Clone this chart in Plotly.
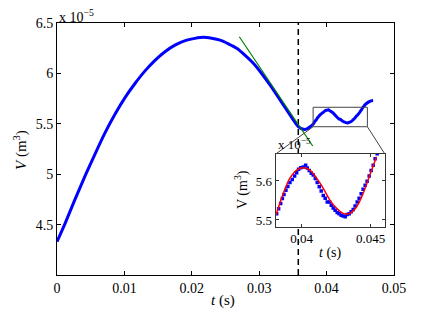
import plotly.graph_objects as go

# ---- data (t in s, V in 1e-5 m^3) ----
# main trace: rising / falling part
t_main_head = [0.0, 0.00119, 0.00267, 0.00415, 0.00564, 0.00712, 0.0086, 0.01009, 0.01157,
               0.01306, 0.01454, 0.01602, 0.0175, 0.01924, 0.0217, 0.02418, 0.02666, 0.02913,
               0.0316, 0.03408, 0.0358, 0.03655, 0.0371, 0.03754, 0.0380]
v_main_head = [4.33, 4.51, 4.75, 4.98, 5.20, 5.41, 5.595, 5.76, 5.90,
               6.025, 6.13, 6.215, 6.28, 6.33, 6.358, 6.33, 6.249, 6.10,
               5.885, 5.637, 5.471, 5.445, 5.45, 5.471, 5.495]
# oscillating part: measured samples (also shown in the inset)
t_dots = [0.03819, 0.03833, 0.03848, 0.0386, 0.03872, 0.03886, 0.039, 0.03915, 0.03932,
          0.03949, 0.03964, 0.03978, 0.03993, 0.04012, 0.04029, 0.04041, 0.04055, 0.0407,
          0.04084, 0.04099, 0.04113, 0.04128, 0.04142, 0.04157, 0.04171, 0.04186, 0.04203,
          0.04215, 0.04229, 0.04243, 0.04258, 0.04272, 0.04287, 0.04301, 0.04316, 0.0433,
          0.04345, 0.04359, 0.04374, 0.04388, 0.04403, 0.04417, 0.04432, 0.04446, 0.04461,
          0.04475, 0.0449, 0.04504, 0.04519, 0.04533, 0.04548]
v_dots = [5.516, 5.529, 5.542, 5.555, 5.565, 5.576, 5.586, 5.596, 5.604,
          5.613, 5.621, 5.630, 5.634, 5.636, 5.640, 5.633, 5.627, 5.620,
          5.615, 5.606, 5.596, 5.585, 5.574, 5.563, 5.556, 5.546, 5.546,
          5.538, 5.531, 5.525, 5.519, 5.516, 5.512, 5.510, 5.508, 5.514,
          5.516, 5.521, 5.527, 5.536, 5.546, 5.556, 5.567, 5.579, 5.589,
          5.599, 5.613, 5.627, 5.640, 5.657, 5.670]
t_main_tail = [0.0458, 0.0462, 0.0466, 0.0469]
v_main_tail = [5.695, 5.715, 5.728, 5.73]

t_tangent = [0.02705, 0.03794]
v_tangent = [6.364, 5.280]

t_event = 0.0358

t_fit = [0.03814, 0.03867, 0.03915, 0.03964, 0.04012, 0.0406, 0.04109, 0.04157, 0.04205,
         0.04254, 0.04301, 0.0435, 0.04399, 0.04446, 0.04495, 0.04543]
v_fit = [5.513, 5.568, 5.607, 5.628, 5.634, 5.628, 5.607, 5.581, 5.551,
         5.530, 5.517, 5.517, 5.534, 5.568, 5.615, 5.662]

main_xticks = [0, 0.01, 0.02, 0.03, 0.04, 0.05]
main_xticklabels = ["0", "0.01", "0.02", "0.03", "0.04", "0.05"]
main_yticks = [4.5, 5, 5.5, 6, 6.5]
main_yticklabels = ["4.5", "5", "5.5", "6", "6.5"]
inset_xticks = [0.04, 0.045]
inset_xticklabels = ["0.04", "0.045"]
inset_yticks = [5.5, 5.6]
inset_yticklabels = ["5.5", "5.6"]

# ---- layout geometry (page body has an 8px margin) ----
OFF = 8
W, H = 436 - OFF, 313 - OFF
ML, MR, MT, MB = 57 - OFF, 42, 23 - OFF, 38
XR = [0, 0.05]
YR = [4.0, 6.5]
IXR = [0.03812, 0.04604]
IYR = [5.483, 5.669]
ZOOM_X = [0.0380, 0.04605]
ZOOM_Y = [5.471, 5.664]
INSET_DX = [0.649, 0.973]
INSET_DY = [0.192, 0.480]

FONT = "Times New Roman, Liberation Serif, serif"
PW, PH = W - ML - MR, H - MT - MB


def px(t):
    return (t - XR[0]) / (XR[1] - XR[0])


def py(v):
    return (v - YR[0]) / (YR[1] - YR[0])


def pxl(x_pix):
    return (x_pix - OFF - ML) / PW


def pyl(y_pix):
    return (H - MB - (y_pix - OFF)) / PH


t_main = t_main_head + t_dots + t_main_tail
v_main = v_main_head + v_dots + v_main_tail

fig = go.Figure()

fig.add_trace(go.Scatter(x=t_main, y=v_main, mode="lines",
                         line=dict(color="#0000ff", width=3, shape="spline", smoothing=0.6),
                         xaxis="x", yaxis="y", hoverinfo="skip"))
fig.add_trace(go.Scatter(x=t_tangent, y=v_tangent, mode="lines",
                         line=dict(color="#008000", width=1.2),
                         xaxis="x", yaxis="y", hoverinfo="skip"))

# inset white background
fig.add_trace(go.Scatter(x=[IXR[0], IXR[1], IXR[1], IXR[0], IXR[0]],
                         y=[IYR[0], IYR[0], IYR[1], IYR[1], IYR[0]],
                         mode="lines", fill="toself", fillcolor="white",
                         line=dict(width=0), xaxis="x2", yaxis="y2", hoverinfo="skip"))
fig.add_trace(go.Scatter(x=t_dots, y=v_dots, mode="markers",
                         marker=dict(color="#0000ff", size=3.5, symbol="square"),
                         xaxis="x2", yaxis="y2", hoverinfo="skip"))
fig.add_trace(go.Scatter(x=t_fit, y=v_fit, mode="lines",
                         line=dict(color="#ff0000", width=1.5, shape="spline"),
                         xaxis="x2", yaxis="y2", hoverinfo="skip"))

shapes = [
    dict(type="line", xref="x", yref="paper", x0=t_event, x1=t_event, y0=0, y1=1,
         line=dict(color="black", width=1.5, dash="6px,4px"), layer="below"),
    dict(type="rect", xref="x", yref="y", x0=ZOOM_X[0], x1=ZOOM_X[1], y0=ZOOM_Y[0], y1=ZOOM_Y[1],
         line=dict(color="#444444", width=1), layer="above"),
    dict(type="line", xref="paper", yref="paper", x0=px(ZOOM_X[0]), y0=py(ZOOM_Y[0]),
         x1=INSET_DX[0], y1=INSET_DY[1], line=dict(color="#444444", width=1)),
    dict(type="line", xref="paper", yref="paper", x0=px(ZOOM_X[1]), y0=py(ZOOM_Y[0]),
         x1=INSET_DX[1], y1=INSET_DY[1], line=dict(color="#444444", width=1)),
]

annotations = [
    dict(text="x 10<sup>−5</sup>", xref="paper", yref="paper", x=0.0, y=1.0, yshift=-4,
         xanchor="left", yanchor="bottom", showarrow=False, font=dict(family=FONT, size=14, color="black")),
    dict(text="x 10<sup>−5</sup>", xref="paper", yref="paper", x=INSET_DX[0], y=INSET_DY[1],
         xanchor="left", yanchor="bottom", showarrow=False, font=dict(family=FONT, size=13, color="black")),
    # axis titles
    dict(text="<i>t</i> (s)", xref="paper", yref="paper", x=pxl(223), y=pyl(300),
         xanchor="center", yanchor="middle", showarrow=False, font=dict(family=FONT, size=15, color="black")),
    dict(text="<i>V</i> (m<sup>3</sup>)", xref="paper", yref="paper", x=pxl(20), y=pyl(150),
         xanchor="center", yanchor="middle", textangle=-90, showarrow=False,
         font=dict(family=FONT, size=15, color="black")),
    dict(text="<i>t</i> (s)", xref="paper", yref="paper", x=pxl(330), y=pyl(253),
         xanchor="center", yanchor="middle", showarrow=False, font=dict(family=FONT, size=14, color="black")),
    dict(text="V (m<sup>3</sup>)", xref="paper", yref="paper", x=pxl(241), y=pyl(190),
         xanchor="center", yanchor="middle", textangle=-90, showarrow=False,
         font=dict(family=FONT, size=14, color="black")),
]

axis_common = dict(showgrid=False, zeroline=False, showline=True, linecolor="black", linewidth=1,
                   mirror="ticks", ticks="inside", ticklen=4, tickcolor="black", automargin=False,
                   tickfont=dict(family=FONT, size=14, color="black"))
inset_common = dict(showgrid=False, zeroline=False, showline=True, linecolor="#333333", linewidth=1,
                    mirror="ticks", ticks="inside", ticklen=3, tickcolor="#333333", automargin=False,
                    tickfont=dict(family=FONT, size=13, color="black"))

fig.update_layout(
    width=W, height=H,
    margin=dict(l=ML, r=MR, t=MT, b=MB),
    paper_bgcolor="white", plot_bgcolor="white",
    showlegend=False,
    font=dict(family=FONT, color="black"),
    shapes=shapes, annotations=annotations,
    xaxis=dict(range=XR, tickvals=main_xticks, ticktext=main_xticklabels, **axis_common),
    yaxis=dict(range=YR, tickvals=main_yticks, ticktext=main_yticklabels, **axis_common),
    xaxis2=dict(domain=INSET_DX, anchor="y2", range=IXR, tickvals=inset_xticks,
                ticktext=inset_xticklabels, **inset_common),
    yaxis2=dict(domain=INSET_DY, anchor="x2", range=IYR, tickvals=inset_yticks,
                ticktext=inset_yticklabels, **inset_common),
)

fig.write_html("out.html")
